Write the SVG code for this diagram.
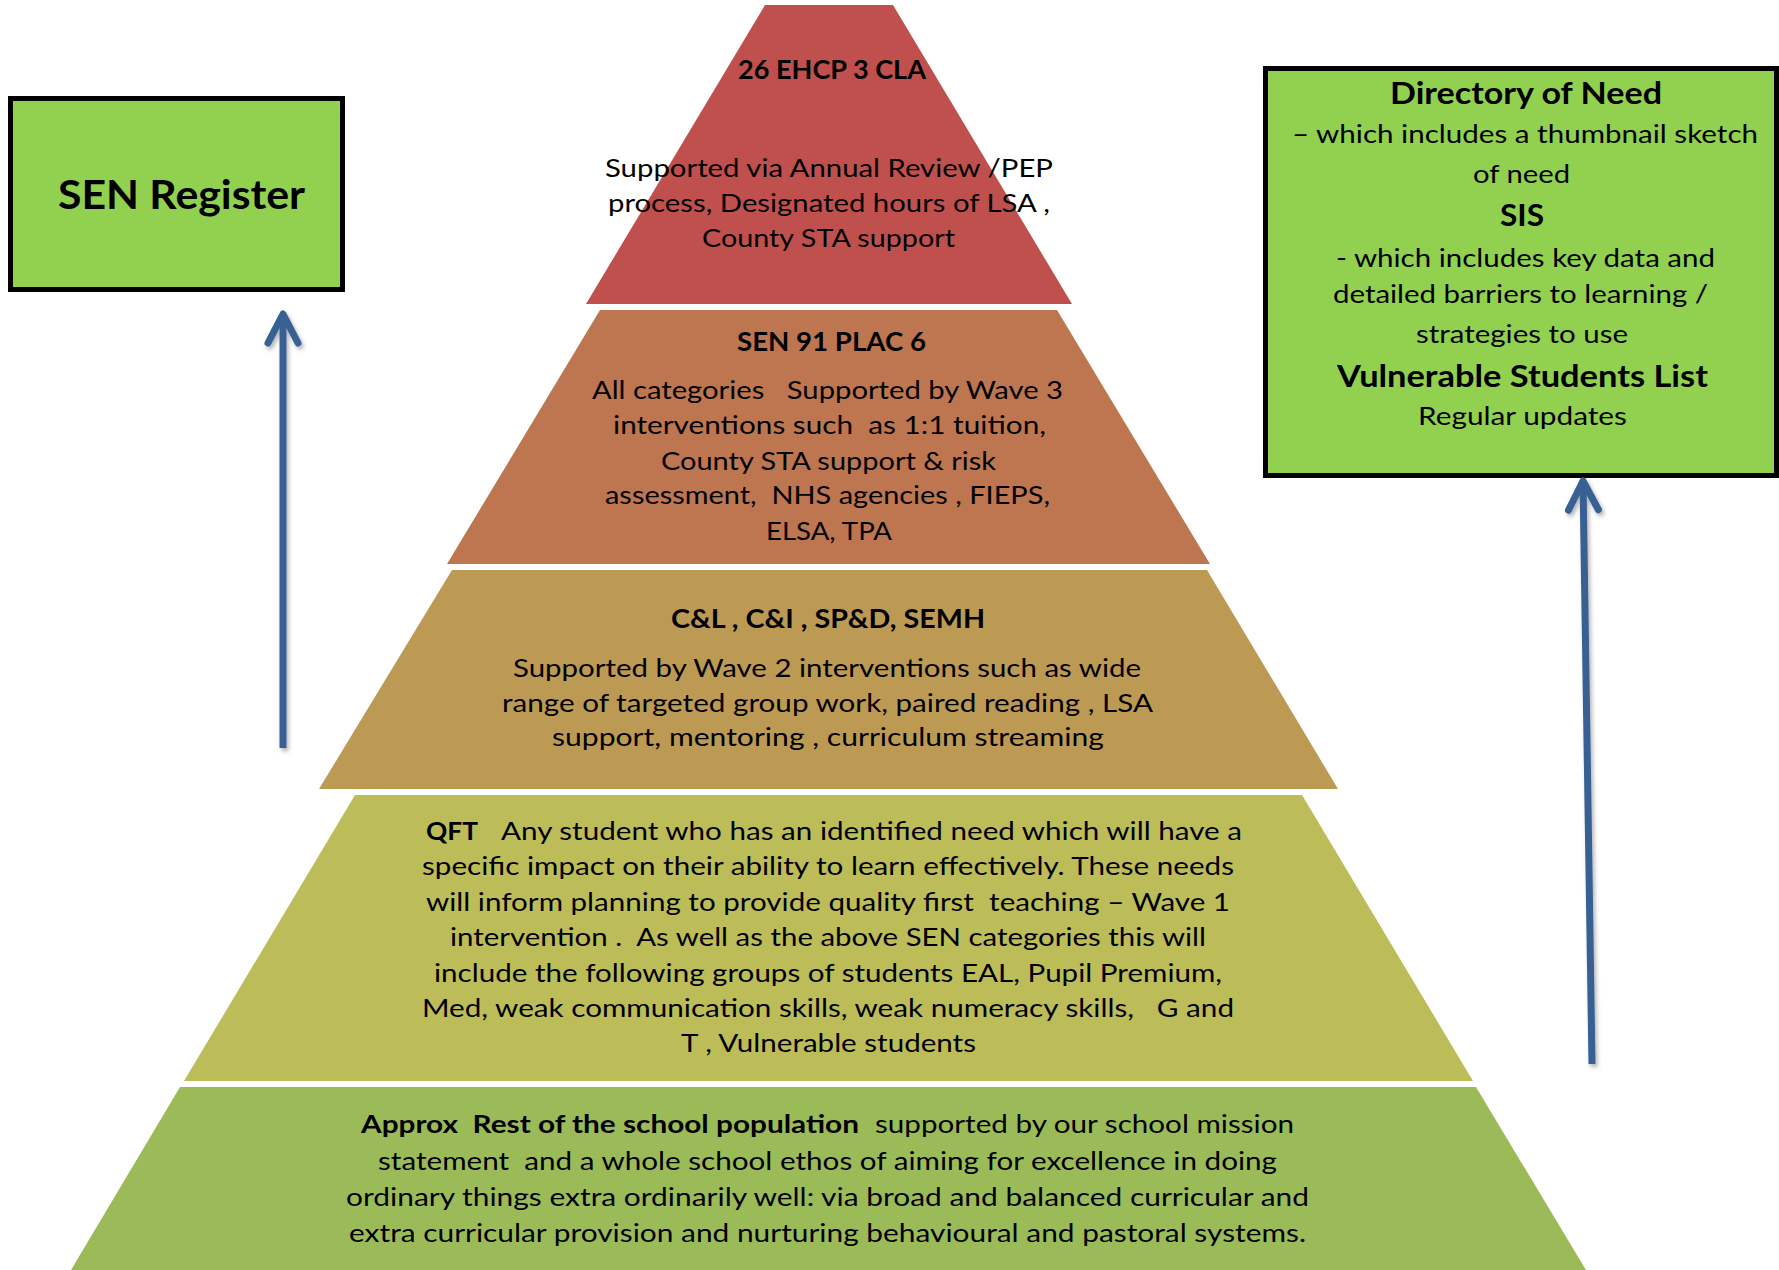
<svg xmlns="http://www.w3.org/2000/svg" width="1779" height="1270" viewBox="0 0 1779 1270">
<style>
text{font-family:Lato,"Noto Sans",sans-serif;fill:#000;white-space:pre}
.r{font-size:25px}
.b{font-size:27px;font-weight:bold}
.h{font-size:31px;font-weight:bold}
.box{fill:#92D050;stroke:#000;stroke-width:5}
.arrow{fill:none;stroke:#376192;stroke-width:7;stroke-linecap:round;stroke-linejoin:round}
</style>
<defs>
<filter id="sh" x="-50%" y="-10%" width="200%" height="120%">
<feDropShadow dx="2" dy="3" stdDeviation="2" flood-color="#000" flood-opacity="0.3"/>
</filter>
<marker id="head" markerUnits="userSpaceOnUse" viewBox="-40 -25 50 50" markerWidth="50" markerHeight="50" refX="0" refY="0" orient="auto">
<path d="M -29 -15 L 0 0 L -29 15" fill="none" stroke="#376192" stroke-width="7" stroke-linecap="round" stroke-linejoin="round"/>
</marker>
</defs>
<rect width="1779" height="1270" fill="#fff"/>

<g id="tier-ehcp">
<polygon points="765,5 893,5 1072,304 586,304" fill="#C0504D"/>
<text class="b" x="738" y="79" textLength="188" lengthAdjust="spacingAndGlyphs">26 EHCP 3 CLA</text>
<text class="r" x="605" y="177" textLength="448" lengthAdjust="spacingAndGlyphs">Supported via Annual Review /PEP</text>
<text class="r" x="608" y="212" textLength="442" lengthAdjust="spacingAndGlyphs">process, Designated hours of LSA ,</text>
<text class="r" x="702" y="247" textLength="253" lengthAdjust="spacingAndGlyphs">County STA support</text>
</g>

<g id="tier-sen">
<polygon points="600,310 1057,310 1210,564 447,564" fill="#BE7650"/>
<text class="b" x="737" y="351" textLength="189" lengthAdjust="spacingAndGlyphs">SEN 91 PLAC 6</text>
<text class="r" x="592" y="399" textLength="471" lengthAdjust="spacingAndGlyphs">All categories   Supported by Wave 3</text>
<text class="r" x="613" y="434" textLength="433" lengthAdjust="spacingAndGlyphs">interventions such  as 1:1 tuition,</text>
<text class="r" x="661" y="470" textLength="335" lengthAdjust="spacingAndGlyphs">County STA support &amp; risk</text>
<text class="r" x="605" y="504" textLength="445" lengthAdjust="spacingAndGlyphs">assessment,  NHS agencies , FIEPS,</text>
<text class="r" x="766" y="540" textLength="126" lengthAdjust="spacingAndGlyphs">ELSA, TPA</text>
</g>

<g id="tier-wave2">
<polygon points="452,570 1207,570 1338,789 319,789" fill="#BD9A53"/>
<text class="b" x="671" y="628" textLength="314" lengthAdjust="spacingAndGlyphs">C&amp;L , C&amp;I , SP&amp;D, SEMH</text>
<text class="r" x="513" y="677" textLength="628" lengthAdjust="spacingAndGlyphs">Supported by Wave 2 interventions such as wide</text>
<text class="r" x="502" y="712" textLength="651" lengthAdjust="spacingAndGlyphs">range of targeted group work, paired reading , LSA</text>
<text class="r" x="552" y="746" textLength="552" lengthAdjust="spacingAndGlyphs">support, mentoring , curriculum streaming</text>
</g>

<g id="tier-qft">
<polygon points="355,795 1302,795 1473,1081 184,1081" fill="#BCBD59"/>
<text class="r" x="426" y="840" style="font-weight:bold" textLength="52" lengthAdjust="spacingAndGlyphs">QFT</text>
<text class="r" x="501" y="840" textLength="741" lengthAdjust="spacingAndGlyphs">Any student who has an identified need which will have a</text>
<text class="r" x="422" y="875" textLength="812" lengthAdjust="spacingAndGlyphs">specific impact on their ability to learn effectively. These needs</text>
<text class="r" x="426" y="911" textLength="804" lengthAdjust="spacingAndGlyphs">will inform planning to provide quality first  teaching – Wave 1</text>
<text class="r" x="450" y="946" textLength="756" lengthAdjust="spacingAndGlyphs">intervention .  As well as the above SEN categories this will</text>
<text class="r" x="434" y="982" textLength="788" lengthAdjust="spacingAndGlyphs">include the following groups of students EAL, Pupil Premium,</text>
<text class="r" x="422" y="1017" textLength="812" lengthAdjust="spacingAndGlyphs">Med, weak communication skills, weak numeracy skills,   G and</text>
<text class="r" x="681" y="1052" textLength="295" lengthAdjust="spacingAndGlyphs">T , Vulnerable students</text>
</g>

<g id="tier-school">
<polygon points="180,1087 1476,1087 1586,1270 71,1270" fill="#9BBB59"/>
<text class="r" x="361" y="1133" style="font-weight:bold" textLength="498" lengthAdjust="spacingAndGlyphs">Approx  Rest of the school population</text>
<text class="r" x="875" y="1133" textLength="419" lengthAdjust="spacingAndGlyphs">supported by our school mission</text>
<text class="r" x="378" y="1170" textLength="899" lengthAdjust="spacingAndGlyphs">statement  and a whole school ethos of aiming for excellence in doing</text>
<text class="r" x="346" y="1206" textLength="963" lengthAdjust="spacingAndGlyphs">ordinary things extra ordinarily well: via broad and balanced curricular and</text>
<text class="r" x="349" y="1242" textLength="957" lengthAdjust="spacingAndGlyphs">extra curricular provision and nurturing behavioural and pastoral systems.</text>
</g>

<g id="sen-register">
<rect class="box" x="10.5" y="98.5" width="332" height="191"/>
<text x="58" y="209" style="font-size:41px;font-weight:bold" textLength="247" lengthAdjust="spacingAndGlyphs">SEN Register</text>
</g>

<g id="directory">
<rect class="box" x="1265.5" y="68.5" width="511" height="407"/>
<text class="h" x="1390" y="104" textLength="272" lengthAdjust="spacingAndGlyphs">Directory of Need</text>
<text class="r" x="1292" y="143" textLength="466" lengthAdjust="spacingAndGlyphs">– which includes a thumbnail sketch</text>
<text class="r" x="1473" y="183" textLength="97" lengthAdjust="spacingAndGlyphs">of need</text>
<text class="h" x="1500" y="226" textLength="44" lengthAdjust="spacingAndGlyphs">SIS</text>
<text class="r" x="1336" y="267" textLength="379" lengthAdjust="spacingAndGlyphs">- which includes key data and</text>
<text class="r" x="1333" y="303" textLength="375" lengthAdjust="spacingAndGlyphs">detailed barriers to learning /</text>
<text class="r" x="1416" y="343" textLength="212" lengthAdjust="spacingAndGlyphs">strategies to use</text>
<text class="h" x="1337" y="387" textLength="371" lengthAdjust="spacingAndGlyphs">Vulnerable Students List</text>
<text class="r" x="1418" y="425" textLength="209" lengthAdjust="spacingAndGlyphs">Regular updates</text>
</g>

<g id="connectors" filter="url(#sh)">
<line class="arrow" x1="283" y1="748" x2="283" y2="314" marker-end="url(#head)" style="stroke-linecap:butt"/>
<line class="arrow" x1="1592" y1="1064" x2="1583" y2="481" marker-end="url(#head)" style="stroke-linecap:butt"/>
</g>
</svg>
